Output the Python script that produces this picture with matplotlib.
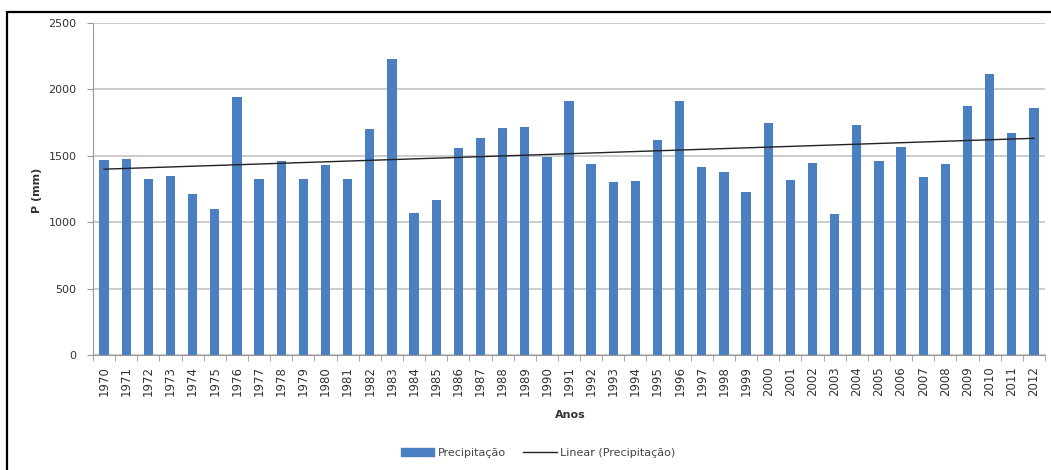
import matplotlib.pyplot as plt
import numpy as np
from matplotlib.patches import Rectangle
from matplotlib.lines import Line2D
from matplotlib.patches import Patch

anos = list(range(1970, 2013))
precip = [1468, 1478, 1325, 1345, 1212, 1100, 1945, 1328, 1461, 1323,
          1431, 1328, 1704, 2227, 1067, 1165, 1561, 1637, 1707, 1719,
          1491, 1913, 1436, 1303, 1310, 1617, 1913, 1418, 1380, 1230,
          1749, 1320, 1443, 1062, 1732, 1458, 1568, 1340, 1436, 1875,
          2116, 1672, 1858]
y_ticks = [0, 500, 1000, 1500, 2000, 2500]

W, H = 1051, 470
fig = plt.figure(figsize=(W / 100, H / 100), dpi=100)
fig.patch.set_facecolor('white')

# black frame around chart (cut off at right and bottom)
fig.patches.append(Rectangle((7 / W, -0.1), 1.2, (H - 12) / H + 0.1,
                             transform=fig.transFigure, fill=False,
                             edgecolor='black', linewidth=1.6))

ax = fig.add_axes([93 / W, 1 - 355 / H, (1045 - 93) / W, (355 - 23) / H])
x = np.arange(len(anos))
ax.bar(x, precip, width=0.42, color='#4a7fc1', zorder=2)

# linear trend line
coef = np.polyfit(x, precip, 1)
ax.plot(x, np.polyval(coef, x), color='#222222', linewidth=1.0, zorder=3)

ax.set_xlim(-0.5, len(anos) - 0.5)
ax.set_ylim(0, 2500)
ax.set_yticks(y_ticks)
ax.set_yticklabels([str(v) for v in y_ticks], fontsize=8, color='#333333')
ax.yaxis.grid(True, color='#cccccc', linewidth=1.4, zorder=0)
ax.set_axisbelow(True)

ax.set_xticks(x)
ax.set_xticklabels([str(a) for a in anos], rotation=90, fontsize=8.5,
                   color='#333333')
ax.set_xticks(np.arange(-0.5, len(anos)), minor=True)
ax.tick_params(axis='x', which='major', length=0, pad=8)
ax.tick_params(axis='x', which='minor', length=4, color='#999999')
ax.tick_params(axis='y', length=4, color='#999999', pad=8)

for s in ['top', 'right']:
    ax.spines[s].set_visible(False)
ax.spines['left'].set_color('#999999')
ax.spines['bottom'].set_color('#999999')

fig.text(37 / W, 1 - 190 / H, 'P (mm)', rotation=90, ha='center',
         va='center', fontsize=8, fontweight='bold', color='#333333')
fig.text(570 / W, 1 - 415 / H, 'Anos', ha='center', va='center',
         fontsize=8, fontweight='bold', color='#333333')

handles = [Patch(color='#4a7fc1'), Line2D([0], [0], color='#222222', linewidth=1.0)]
fig.legend(handles, ['Precipitação', 'Linear (Precipitação)'],
           loc='center', bbox_to_anchor=(538 / W, 1 - 453 / H), ncol=2,
           frameon=False, fontsize=8, handlelength=3, columnspacing=1.6,
           handletextpad=0.3, labelcolor='#444444')

fig.savefig('out.png', dpi=100)
